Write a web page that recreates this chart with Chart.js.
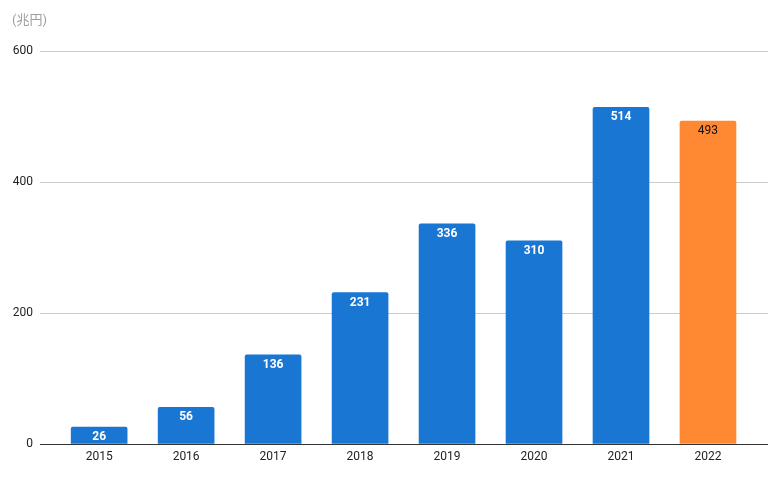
<!DOCTYPE html>
<html><head><meta charset="utf-8">
<script src="https://cdn.jsdelivr.net/npm/chart.js@4/dist/chart.umd.min.js"></script>
<style>html,body{margin:0;padding:0;background:#fff;overflow:hidden}#c{display:block}</style>
</head><body><canvas id="c" width="770" height="478"></canvas>
<script>
const years = ['2015','2016','2017','2018','2019','2020','2021','2022'];
const values = [26, 56, 136, 231, 336, 310, 514, 493];
const barColors = ['#1976D2','#1976D2','#1976D2','#1976D2','#1976D2','#1976D2','#1976D2','#FF8833'];
const labelColors = ['#fff','#fff','#fff','#fff','#fff','#fff','#fff','#111'];
const yTicks = [0, 200, 400, 600];
const unitLabel = '(兆円)';

const FONT = 'Roboto, "Noto Sans CJK JP", sans-serif';

const labelPlugin = {
  id: 'labels',
  afterDatasetsDraw(chart) {
    const ctx = chart.ctx;
    const meta = chart.getDatasetMeta(0);
    const area = chart.chartArea;
    const y0 = Math.round(chart.scales.y.getPixelForValue(0)) + 0.5;
    ctx.save();
    ctx.strokeStyle = '#333';
    ctx.lineWidth = 1;
    ctx.beginPath();
    ctx.moveTo(area.left, y0);
    ctx.lineTo(area.right, y0);
    ctx.stroke();
    ctx.textAlign = 'center';
    ctx.textBaseline = 'middle';
    meta.data.forEach((bar, i) => {
      const last = i === values.length - 1;
      ctx.font = (last ? '' : 'bold ') + '12px ' + FONT;
      ctx.fillStyle = labelColors[i];
      ctx.fillText(String(values[i]), bar.x, bar.y + 10);
    });
    ctx.restore();
  },
  afterDraw(chart) {
    const ctx = chart.ctx;
    ctx.save();
    ctx.font = '13px ' + FONT;
    ctx.fillStyle = '#9e9e9e';
    ctx.textAlign = 'left';
    ctx.textBaseline = 'middle';
    ctx.fillText(unitLabel, 12, 21);
    ctx.restore();
  }
};

new Chart(document.getElementById('c'), {
  type: 'bar',
  data: {
    datasets: [{
      data: values.map((v, i) => ({x: i, y: v})),
      backgroundColor: barColors,
      borderRadius: 2,
      borderSkipped: 'bottom',
      barThickness: 56
    }]
  },
  options: {
    responsive: false,
    animation: false,
    devicePixelRatio: 1,
    layout: { padding: { top: 51, right: 2, left: 0, bottom: 0 } },
    plugins: { legend: { display: false }, tooltip: { enabled: false } },
    scales: {
      x: {
        type: 'linear',
        offset: false,
        min: -0.68,
        max: 7.69,
        afterBuildTicks: s => { s.ticks = years.map((y, i) => ({value: i})); },
        ticks: {
          autoSkip: false,
          maxRotation: 0,
          callback: v => years[v] ?? '',
          color: '#222',
          font: { family: FONT, size: 12 },
          padding: 6
        },
        grid: { display: false, drawTicks: false, offset: false },
        border: { display: false },
        afterFit: s => { s.height = 34; }
      },
      y: {
        min: 0,
        max: 600,
        afterBuildTicks: s => { s.ticks = yTicks.map(v => ({value: v})); },
        ticks: {
          color: '#222',
          font: { family: FONT, size: 12 },
          padding: 7
        },
        grid: { color: '#cccccc', drawTicks: false },
        border: { display: false },
        afterFit: s => { s.width = 40; }
      }
    }
  },
  plugins: [labelPlugin]
});
</script></body></html>
